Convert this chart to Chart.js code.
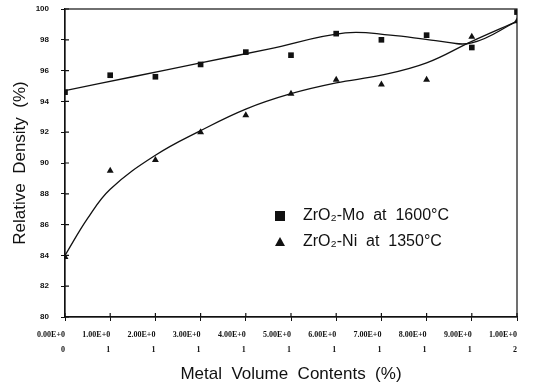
<!DOCTYPE html>
<html>
<head>
<meta charset="utf-8">
<script src="https://cdn.jsdelivr.net/npm/chart.js@4.4.0/dist/chart.umd.min.js"></script>
<style>
html, body { margin: 0; padding: 0; background: #fff; }
#wrap { width: 536px; height: 389px; }
</style>
</head>
<body>
<div id="wrap"><canvas id="densityChart"></canvas></div>
<script>
// measured points (metal vol. %, relative density %)
var metalContent = [0, 10, 20, 30, 40, 50, 60, 70, 80, 90, 100];
var moDensity = [94.6, 95.7, 95.6, 96.4, 97.2, 97.0, 98.4, 98.0, 98.3, 97.5, 99.8];
var niDensity = [83.9, 89.5, 90.2, 92.0, 93.1, 94.5, 95.4, 95.1, 95.4, 98.2, 99.2];

// fitted curves
var moFitX = [0, 15, 30, 45, 62, 72, 82, 90, 100];
var moFitY = [94.7, 95.6, 96.5, 97.4, 98.45, 98.3, 97.95, 97.8, 99.2];
var niFitX = [0, 5, 10, 20, 30, 40, 50, 60, 70, 80, 90, 100];
var niFitY = [84.0, 86.4, 88.3, 90.5, 92.1, 93.5, 94.5, 95.2, 95.7, 96.5, 97.9, 99.2];

var yTicks = [80, 82, 84, 86, 88, 90, 92, 94, 96, 98, 100];
var xTickLabels = [
    ['0.00E+0', '0'], ['1.00E+0', '1'], ['2.00E+0', '1'], ['3.00E+0', '1'],
    ['4.00E+0', '1'], ['5.00E+0', '1'], ['6.00E+0', '1'], ['7.00E+0', '1'],
    ['8.00E+0', '1'], ['9.00E+0', '1'], ['1.00E+0', '2']
];
var legendLabels = ['ZrO\u2082-Mo  at  1600\u00b0C', 'ZrO\u2082-Ni  at  1350\u00b0C'];

function toPoints(xs, ys) {
    return xs.map(function (x, i) { return { x: x, y: ys[i] }; });
}

var ink = '#111';

// frame round the plot area + legend inside it
var framePlugin = {
    id: 'frame',
    afterDraw: function (chart) {
        var ctx = chart.ctx, a = chart.chartArea;
        ctx.save();
        ctx.strokeStyle = ink;
        ctx.lineWidth = 1.2;
        ctx.strokeRect(a.left, a.top, a.right - a.left, a.bottom - a.top);
        // small inner tick marks
        var ys = chart.scales.y, xs = chart.scales.x;
        ctx.beginPath();
        yTicks.forEach(function (v) {
            var p = ys.getPixelForValue(v);
            ctx.moveTo(a.left, p); ctx.lineTo(a.left + 4, p);
        });
        metalContent.forEach(function (v) {
            var p = xs.getPixelForValue(v);
            ctx.moveTo(p, a.bottom); ctx.lineTo(p, a.bottom - 4);
        });
        ctx.stroke();

        // legend
        ctx.font = '16px "Liberation Sans", Arial, sans-serif';
        ctx.textBaseline = 'middle';
        ctx.fillStyle = ink;
        var lx = 280, ly = [216, 242];
        ctx.fillRect(lx - 5, ly[0] - 5, 10, 10);
        ctx.beginPath();
        ctx.moveTo(lx - 5, ly[1] + 4);
        ctx.lineTo(lx + 5, ly[1] + 4);
        ctx.lineTo(lx, ly[1] - 5);
        ctx.closePath();
        ctx.fill();
        ctx.fillText(legendLabels[0], 303, ly[0]);
        ctx.fillText(legendLabels[1], 303, ly[1]);
        ctx.restore();
    }
};

var ctx = document.getElementById('densityChart').getContext('2d');
var chart = new Chart(ctx, {
    type: 'scatter',
    data: {
        datasets: [{
            label: 'ZrO2-Mo fit',
            data: toPoints(moFitX, moFitY),
            showLine: true,
            borderColor: ink,
            borderWidth: 1.3,
            pointRadius: 0,
            tension: 0.4
        }, {
            label: 'ZrO2-Ni fit',
            data: toPoints(niFitX, niFitY),
            showLine: true,
            borderColor: ink,
            borderWidth: 1.3,
            pointRadius: 0,
            tension: 0.4
        }, {
            label: 'ZrO2-Mo at 1600°C',
            data: toPoints(metalContent, moDensity),
            pointStyle: 'rect',
            pointRadius: 4,
            backgroundColor: ink,
            borderColor: ink,
            borderWidth: 0
        }, {
            label: 'ZrO2-Ni at 1350°C',
            data: toPoints(metalContent, niDensity),
            pointStyle: 'triangle',
            pointRadius: 4,
            backgroundColor: ink,
            borderColor: ink,
            borderWidth: 0
        }]
    },
    options: {
        responsive: true,
        maintainAspectRatio: false,
        animation: false,
        layout: { padding: { top: 9, right: 19, left: 6, bottom: 0 } },
        plugins: {
            legend: { display: false },
            tooltip: { enabled: false }
        },
        scales: {
            x: {
                type: 'linear',
                min: 0,
                max: 100,
                afterBuildTicks: function (scale) {
                    scale.ticks = metalContent.map(function (v) { return { value: v }; });
                },
                afterFit: function (scale) { scale.height = 72; },
                grid: { drawOnChartArea: false, drawTicks: true, tickLength: 4, color: ink },
                border: { color: ink, width: 1.2 },
                ticks: {
                    autoSkip: false,
                    maxRotation: 0,
                    align: 'end',
                    padding: 6,
                    color: ink,
                    font: { family: '"Liberation Serif", serif', size: 8, weight: 'bold', lineHeight: 1.9 },
                    callback: function (value, index) { return xTickLabels[index]; }
                },
                title: {
                    display: true,
                    text: 'Metal  Volume  Contents  (%)',
                    color: ink,
                    padding: { top: 0, bottom: 4 },
                    font: { family: '"Liberation Sans", Arial, sans-serif', size: 17 }
                }
            },
            y: {
                min: 80,
                max: 100,
                afterBuildTicks: function (scale) {
                    scale.ticks = yTicks.map(function (v) { return { value: v }; });
                },
                afterFit: function (scale) {
                    scale.width = 59;
                    scale.paddingTop = 0;
                    scale.paddingBottom = 0;
                },
                grid: { drawOnChartArea: false, drawTicks: true, tickLength: 4, color: ink },
                border: { color: ink, width: 1.2 },
                ticks: {
                    padding: 12,
                    color: ink,
                    font: { family: '"Liberation Sans", Arial, sans-serif', size: 8, weight: 'bold' }
                },
                title: {
                    display: true,
                    text: 'Relative  Density  (%)',
                    color: ink,
                    padding: { top: 4, bottom: 0 },
                    font: { family: '"Liberation Sans", Arial, sans-serif', size: 17 }
                }
            }
        }
    },
    plugins: [framePlugin]
});
</script>
</body>
</html>
